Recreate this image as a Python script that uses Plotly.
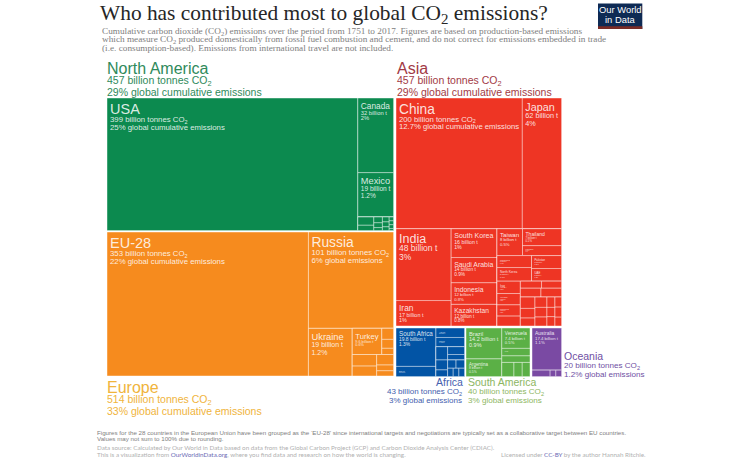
import plotly.graph_objects as go

W, H = 740, 461

# ---------- data ----------
na_labels = ["North America", "USA", "n_right", "Canada", "Mexico", "n_small", "n_a", "n_b", "n_c", "n_d",
             "Cuba", "Trinidad and Tobago", "Dominican Republic", "Jamaica", "Bahamas", "Guatemala", "Panama",
             "Costa Rica", "Honduras", "Nicaragua", "El Salvador", "Haiti"]
na_parents = ["", "North America", "North America", "n_right", "n_right", "n_right", "n_small", "n_small", "n_small", "n_small",
              "n_a", "n_a", "n_b", "n_b", "n_b", "n_c", "n_c", "n_c", "n_d", "n_d", "n_d", "n_d"]
na_values = [0, 399, 0, 32, 19, 0, 0, 0, 0, 0, 1.6, 1.0, 0.6, 0.5, 0.3, 0.4, 0.4, 0.3, 0.2, 0.2, 0.2, 0.1]

eu_labels = ["Europe", "EU-28", "e_right", "Russia", "e_lower", "Ukraine", "e_rest", "e_top", "Turkey", "e_tiny",
             "Switzerland", "Norway", "Moldova", "e_bot", "e_c1", "e_c2", "Belarus", "Serbia", "Bosnia", "Croatia_x", "Others"]
eu_parents = ["", "Europe", "Europe", "e_right", "e_right", "e_lower", "e_lower", "e_rest", "e_top", "e_top",
              "e_tiny", "e_tiny", "e_tiny", "e_rest", "e_bot", "e_bot", "e_c1", "e_c1", "e_c2", "e_c2", "e_c2"]
eu_values = [0, 361, 0, 102, 0, 26, 0, 0, 9.6, 0, 1.6, 1.3, 0.9, 0, 0, 0, 3.5, 3.0, 2.2, 1.2, 1.1]

as_labels = ["Asia", "a_all", "a_top", "China", "Japan", "a_bot", "a_c1", "India", "Iran",
             "a_c2", "South Korea", "Saudi Arabia", "Indonesia", "Kazakhstan", "a_c3",
             "a_r1", "Taiwan", "a_r1b", "Thailand", "Uzbekistan",
             "a_r2", "a_r2a", "Malaysia", "North Korea", "a_r2b", "Pakistan", "UAE",
             "a_r3", "a_r3a", "Iraq", "Vietnam", "Philippines", "Hong Kong",
             "a_r3b", "a_s1", "Israel", "Kuwait", "a_s2", "Singapore", "Qatar",
             "a_s3", "a_sa", "Syria", "Bangladesh", "Oman", "a_sb", "Turkmenistan", "Azerbaijan", "Bahrain",
             "a_sc", "Myanmar", "Jordan", "Lebanon", "a_sd", "Sri Lanka", "Mongolia", "Yemen"]
as_parents = ["", "Asia", "a_all", "a_top", "a_top", "a_all", "a_bot", "a_c1", "a_c1",
              "a_bot", "a_c2", "a_c2", "a_c2", "a_c2", "a_bot",
              "a_c3", "a_r1", "a_r1", "a_r1b", "a_r1b",
              "a_c3", "a_r2", "a_r2a", "a_r2a", "a_r2", "a_r2b", "a_r2b",
              "a_c3", "a_r3", "a_r3a", "a_r3a", "a_r3a", "a_r3a",
              "a_r3", "a_r3b", "a_s1", "a_s1", "a_r3b", "a_s2", "a_s2",
              "a_r3b", "a_s3", "a_sa", "a_sa", "a_sa", "a_s3", "a_sb", "a_sb", "a_sb",
              "a_s3", "a_sc", "a_sc", "a_sc", "a_s3", "a_sd", "a_sd", "a_sd"]
as_values = [0, 0, 0, 200, 62, 0, 0, 48, 17,
             0, 16, 14, 12, 12, 0,
             0, 8.3, 0, 8, 4.7,
             0, 0, 5, 5.7, 0, 4.7, 4.6,
             0, 0, 3.5, 3.2, 3.2, 2.8,
             0, 0, 1.8, 1.7, 0, 2.2, 2.2,
             0, 0, 2, 1.7, 1.4, 0, 1.5, 1.4, 1.3,
             0, 1.0, 0.9, 0.9, 0, 0.8, 0.8, 0.7]

af_labels = ["Africa", "f_left", "South Africa", "Egypt", "f_right", "Algeria", "Nigeria", "f_rest",
             "f_a", "Libya", "Morocco", "Angola", "f_b", "Tunisia", "Kenya", "f_b2", "Ghana", "Sudan", "f_b3", "Senegal", "Ethiopia", "Cameroon"]
af_parents = ["", "Africa", "f_left", "f_left", "Africa", "f_right", "f_right", "f_right",
              "f_rest", "f_a", "f_a", "f_a", "f_rest", "f_b", "f_b", "f_b", "f_b2", "f_b2", "f_b", "f_b3", "f_b3", "f_b3"]
af_values = [0, 0, 19.8, 5.2, 0, 3.5, 3.4, 0, 0, 2, 1.5, 1, 0, 1.7, 1.2, 0, 0.9, 0.9, 0, 0.6, 0.6, 0.6]

sa_labels = ["South America", "s_left", "Brazil", "Argentina", "s_right", "Venezuela", "Colombia", "Chile", "s_low", "Peru", "Ecuador", "Bolivia"]
sa_parents = ["", "South America", "s_left", "s_left", "South America", "s_right", "s_right", "s_right", "s_right", "s_low", "s_low", "s_low"]
sa_values = [0, 0, 14.2, 8.1, 0, 7.4, 2.7, 2.4, 0, 2.2, 1.5, 1.4]

oc_labels = ["Oceania", "o_all", "Australia", "o_low", "New Zealand", "Papua New Guinea", "Fiji"]
oc_parents = ["", "Oceania", "o_all", "o_all", "o_low", "o_low", "o_low"]
oc_values = [0, 0, 17.4, 0, 1.6, 0.5, 0.5]

tile_notes = {
    "USA": ["399 billion tonnes CO<sub>2</sub>", "25% global cumulative emissions"],
    "Canada": ["32 billion t", "2%"], "Mexico": ["19 billion t", "1.2%"],
    "EU-28": ["353 billion tonnes CO<sub>2</sub>", "22% global cumulative emissions"],
    "Russia": ["101 billion tonnes CO<sub>2</sub>", "6% global emissions"],
    "Ukraine": ["19 billion t", "1.2%"], "Turkey": ["9.6 billion t", "0.6%"],
    "China": ["200 billion tonnes CO<sub>2</sub>", "12.7% global cumulative emissions"],
    "Japan": ["62 billion t", "4%"], "India": ["48 billion t", "3%"], "Iran": ["17 billion t", "1%"],
    "South Korea": ["16 billion t", "1%"], "Saudi Arabia": ["14 billion t", "0.9%"],
    "Indonesia": ["12 billion t", "0.8%"], "Kazakhstan": ["12 billion t", "0.8%"],
    "Taiwan": ["8 billion t", "0.5%"], "Thailand": ["7 billion t", "0.5%"], "Uzbekistan": ["5 billion t", "0.3%"],
    "Malaysia": ["5 billion t", "0.3%"], "North Korea": ["5 billion t", "0.3%"],
    "Pakistan": ["5 billion t", "0.3%"], "UAE": ["5 billion t", "0.3%"],
    "Iraq": ["4 billion t", "0.2%"], "Vietnam": ["3 billion t", "0.2%"], "Philippines": ["3 billion t", "0.2%"],
    "South Africa": ["19.8 billion t", "1.3%"], "Algeria": ["3.5 billion t"], "Nigeria": ["3.4 billion t"], "Egypt": ["5.2 billion t"],
    "Brazil": ["14.2 billion t", "0.9%"], "Argentina": ["8 billion t", "0.5%"], "Venezuela": ["7.4 billion t", "0.5%"],
    "Colombia": ["2.7 billion t"], "Australia": ["17.4 billion t", "1.1%"],
    "New Zealand": [],
}

# ---------- styles ----------
TILE_SIZE = {"USA": (14.5, 7.8), "EU-28": (14.5, 7.8), "China": (14, 7.9), "Russia": (13.8, 7.8),
             "India": (12.5, 8.5), "Japan": (12.8, 8.6), "Iran": (9, 5.8),
             "Canada": (9.8, 6.8), "Mexico": (9.6, 6.8), "Ukraine": (9.4, 7), "Turkey": (9.4, 4.6),
             "South Korea": (9.4, 7), "Saudi Arabia": (9.2, 6.4), "Indonesia": (8.8, 5.6), "Kazakhstan": (9.2, 6.2),
             "Taiwan": (6.8, 4.6), "Thailand": (6.8, 3.8), "Uzbekistan": (5.2, 3.4), "Malaysia": (4.8, 3.2), "North Korea": (4.8, 3.2),
             "Pakistan": (4.6, 3.2), "UAE": (5.4, 3.2), "Iraq": (5.4, 3.2), "Vietnam": (4.4, 3.2), "Philippines": (4, 3.2),
             "South Africa": (7.1, 5.6), "Algeria": (4.6, 3), "Nigeria": (4.6, 3), "Egypt": (5, 3),
             "Brazil": (5.8, 5.6), "Argentina": (6.4, 4.8), "Venezuela": (5.4, 4.8), "Colombia": (5.2, 3.2),
             "Australia": (5.8, 5), "New Zealand": (3.5, 3)}
SANS = "Liberation Sans"
SERIF = "Liberation Serif"
LINE = "rgba(255,255,255,0.55)"


def tile_text(name):
    if name not in TILE_SIZE:
        return ""
    big, small = TILE_SIZE[name]
    parts = [f'<span style="font-size:{big}px">{name}</span>']
    parts += [f'<span style="font-size:{small}px">{t}</span>' for t in tile_notes.get(name, [])]
    return "<br>".join(parts)


def block(labels, parents, values, color, x0, y0, x1, y1):
    return go.Treemap(
        labels=labels, parents=parents, values=values, branchvalues="remainder", sort=False,
        domain=dict(x=[x0 / W, x1 / W], y=[1 - y1 / H, 1 - y0 / H]),
        tiling=dict(packing="slice-dice", pad=0),
        pathbar=dict(visible=False), maxdepth=-1,
        marker=dict(colors=[color] * len(labels), depthfade=False, pad=dict(t=0, l=0, r=0, b=0),
                    line=dict(color=LINE, width=0.8)),
        text=[tile_text(n) for n in labels], textinfo="text", textposition="top left",
        textfont=dict(family=SANS, color="rgba(255,255,255,0.86)",
                      size=[TILE_SIZE.get(n, (0, 4))[1] * 0.78 for n in labels]),
        hoverinfo="skip",
    )


fig = go.Figure([
    block(na_labels, na_parents, na_values, "#0C8A4F", 107, 98, 393.5, 230.5),
    block(eu_labels, eu_parents, eu_values, "#F68B1E", 107, 232, 393.5, 376),
    block(as_labels, as_parents, as_values, "#EE3524", 396, 98, 561.5, 326),
    block(af_labels, af_parents, af_values, "#0254A5", 396, 328, 464.5, 376.5),
    block(sa_labels, sa_parents, sa_values, "#5BB046", 466, 328, 530, 376.5),
    block(oc_labels, oc_parents, oc_values, "#7A4AA3", 532, 328, 561.5, 376.5),
])

annotations = []


def note(x, y, text, size, color, family=SANS, anchor="left"):
    annotations.append(dict(x=x / W, y=1 - y / H, xref="paper", yref="paper", text=text, showarrow=False,
                            xanchor=anchor, yanchor="middle", align=anchor,
                            font=dict(size=size, color=color, family=family), borderpad=0))


note(99, 14, "Who has contributed most to global CO<sub>2</sub> emissions?", 21.4, "#262626", SERIF)
for y, t in [(31, "Cumulative carbon dioxide (CO<sub>2</sub>) emissions over the period from 1751 to 2017. Figures are based on production-based emissions"),
             (39.5, "which measure CO<sub>2</sub> produced domestically from fossil fuel combustion and cement, and do not correct for emissions embedded in trade"),
             (48, "(i.e. consumption-based). Emissions from international travel are not included.")]:
    note(101, y, t, 9.25, "#808080", SERIF)

GREEN, RED, ORANGE, BLUE, LIME, PURPLE = "#2F8A5B", "#A23A45", "#F0B43C", "#4560AE", "#8DB662", "#6F4FA3"
note(106, 68, "North America", 16, GREEN); note(106, 80.5, "457 billion tonnes CO<sub>2</sub>", 10.5, GREEN)
note(106, 92, "29% global cumulative emissions", 10.5, GREEN)
note(396, 68, "Asia", 16, RED); note(396, 80.5, "457 billion tonnes CO<sub>2</sub>", 10.5, RED)
note(396, 92, "29% global cumulative emissions", 10.5, RED)
note(106, 387, "Europe", 16, ORANGE); note(106, 399.5, "514 billion tonnes CO<sub>2</sub>", 10.5, ORANGE)
note(106, 411, "33% global cumulative emissions", 10.5, ORANGE)
note(464, 382, "Africa", 10.5, BLUE, anchor="right"); note(463, 391.5, "43 billion tonnes CO<sub>2</sub>", 8.0, BLUE, anchor="right")
note(463, 400, "3% global emissions", 8.0, BLUE, anchor="right")
note(467, 382, "South America", 10.5, LIME); note(467, 391.5, "40 billion tonnes CO<sub>2</sub>", 8.1, LIME)
note(467, 400, "3% global emissions", 8.1, LIME)
note(563, 356, "Oceania", 10.5, PURPLE); note(563, 365.5, "20 billion tonnes CO<sub>2</sub>", 8.1, PURPLE)
note(563, 374, "1.2% global emissions", 8.1, PURPLE)

note(95.5, 432, "Figures for the 28 countries in the European Union have been grouped as the ‘EU-28’ since international targets and negotiations are typically set as a collaborative target between EU countries.", 6.2, "#808080")
note(95.5, 438.5, "Values may not sum to 100% due to rounding.", 6.2, "#808080")
note(95.5, 447.5, "Data source: Calculated by Our World in Data based on data from the Global Carbon Project (GCP) and Carbon Dioxide Analysis Center (CDIAC).", 6.3, "#b0b0b0", "Lato")
note(95.5, 454.5, 'This is a visualization from <span style="color:#6a6ab4">OurWorldinData.org</span>, where you find data and research on how the world is changing.', 6.3, "#b0b0b0", "Lato")
note(500, 454.5, 'Licensed under <span style="color:#6a6ab4">CC-BY</span> by the author Hannah Ritchie.', 6.25, "#b0b0b0", "Lato")

# logo
note(620, 10, "Our World", 9.4, "#FFFFFF", anchor="center")
note(620, 19.5, "in Data", 9.4, "#FFFFFF", anchor="center")

shapes = [
    dict(type="rect", xref="paper", yref="paper", x0=598 / W, x1=642.3 / W, y0=1 - 29 / H, y1=1 - 3.5 / H,
         fillcolor="#0E2A54", line=dict(width=0), layer="below"),
    dict(type="rect", xref="paper", yref="paper", x0=598 / W, x1=642.3 / W, y0=1 - 29 / H, y1=1 - 26.3 / H,
         fillcolor="#7A2B26", line=dict(width=0), layer="below"),
]

fig.update_layout(width=W, height=H, margin=dict(l=0, r=0, t=0, b=0), paper_bgcolor="white",
                  annotations=annotations, shapes=shapes, showlegend=False)
fig.write_html("out.html", config=dict(displayModeBar=False),
               post_script="document.body.style.margin='0';document.body.style.overflow='hidden';")
